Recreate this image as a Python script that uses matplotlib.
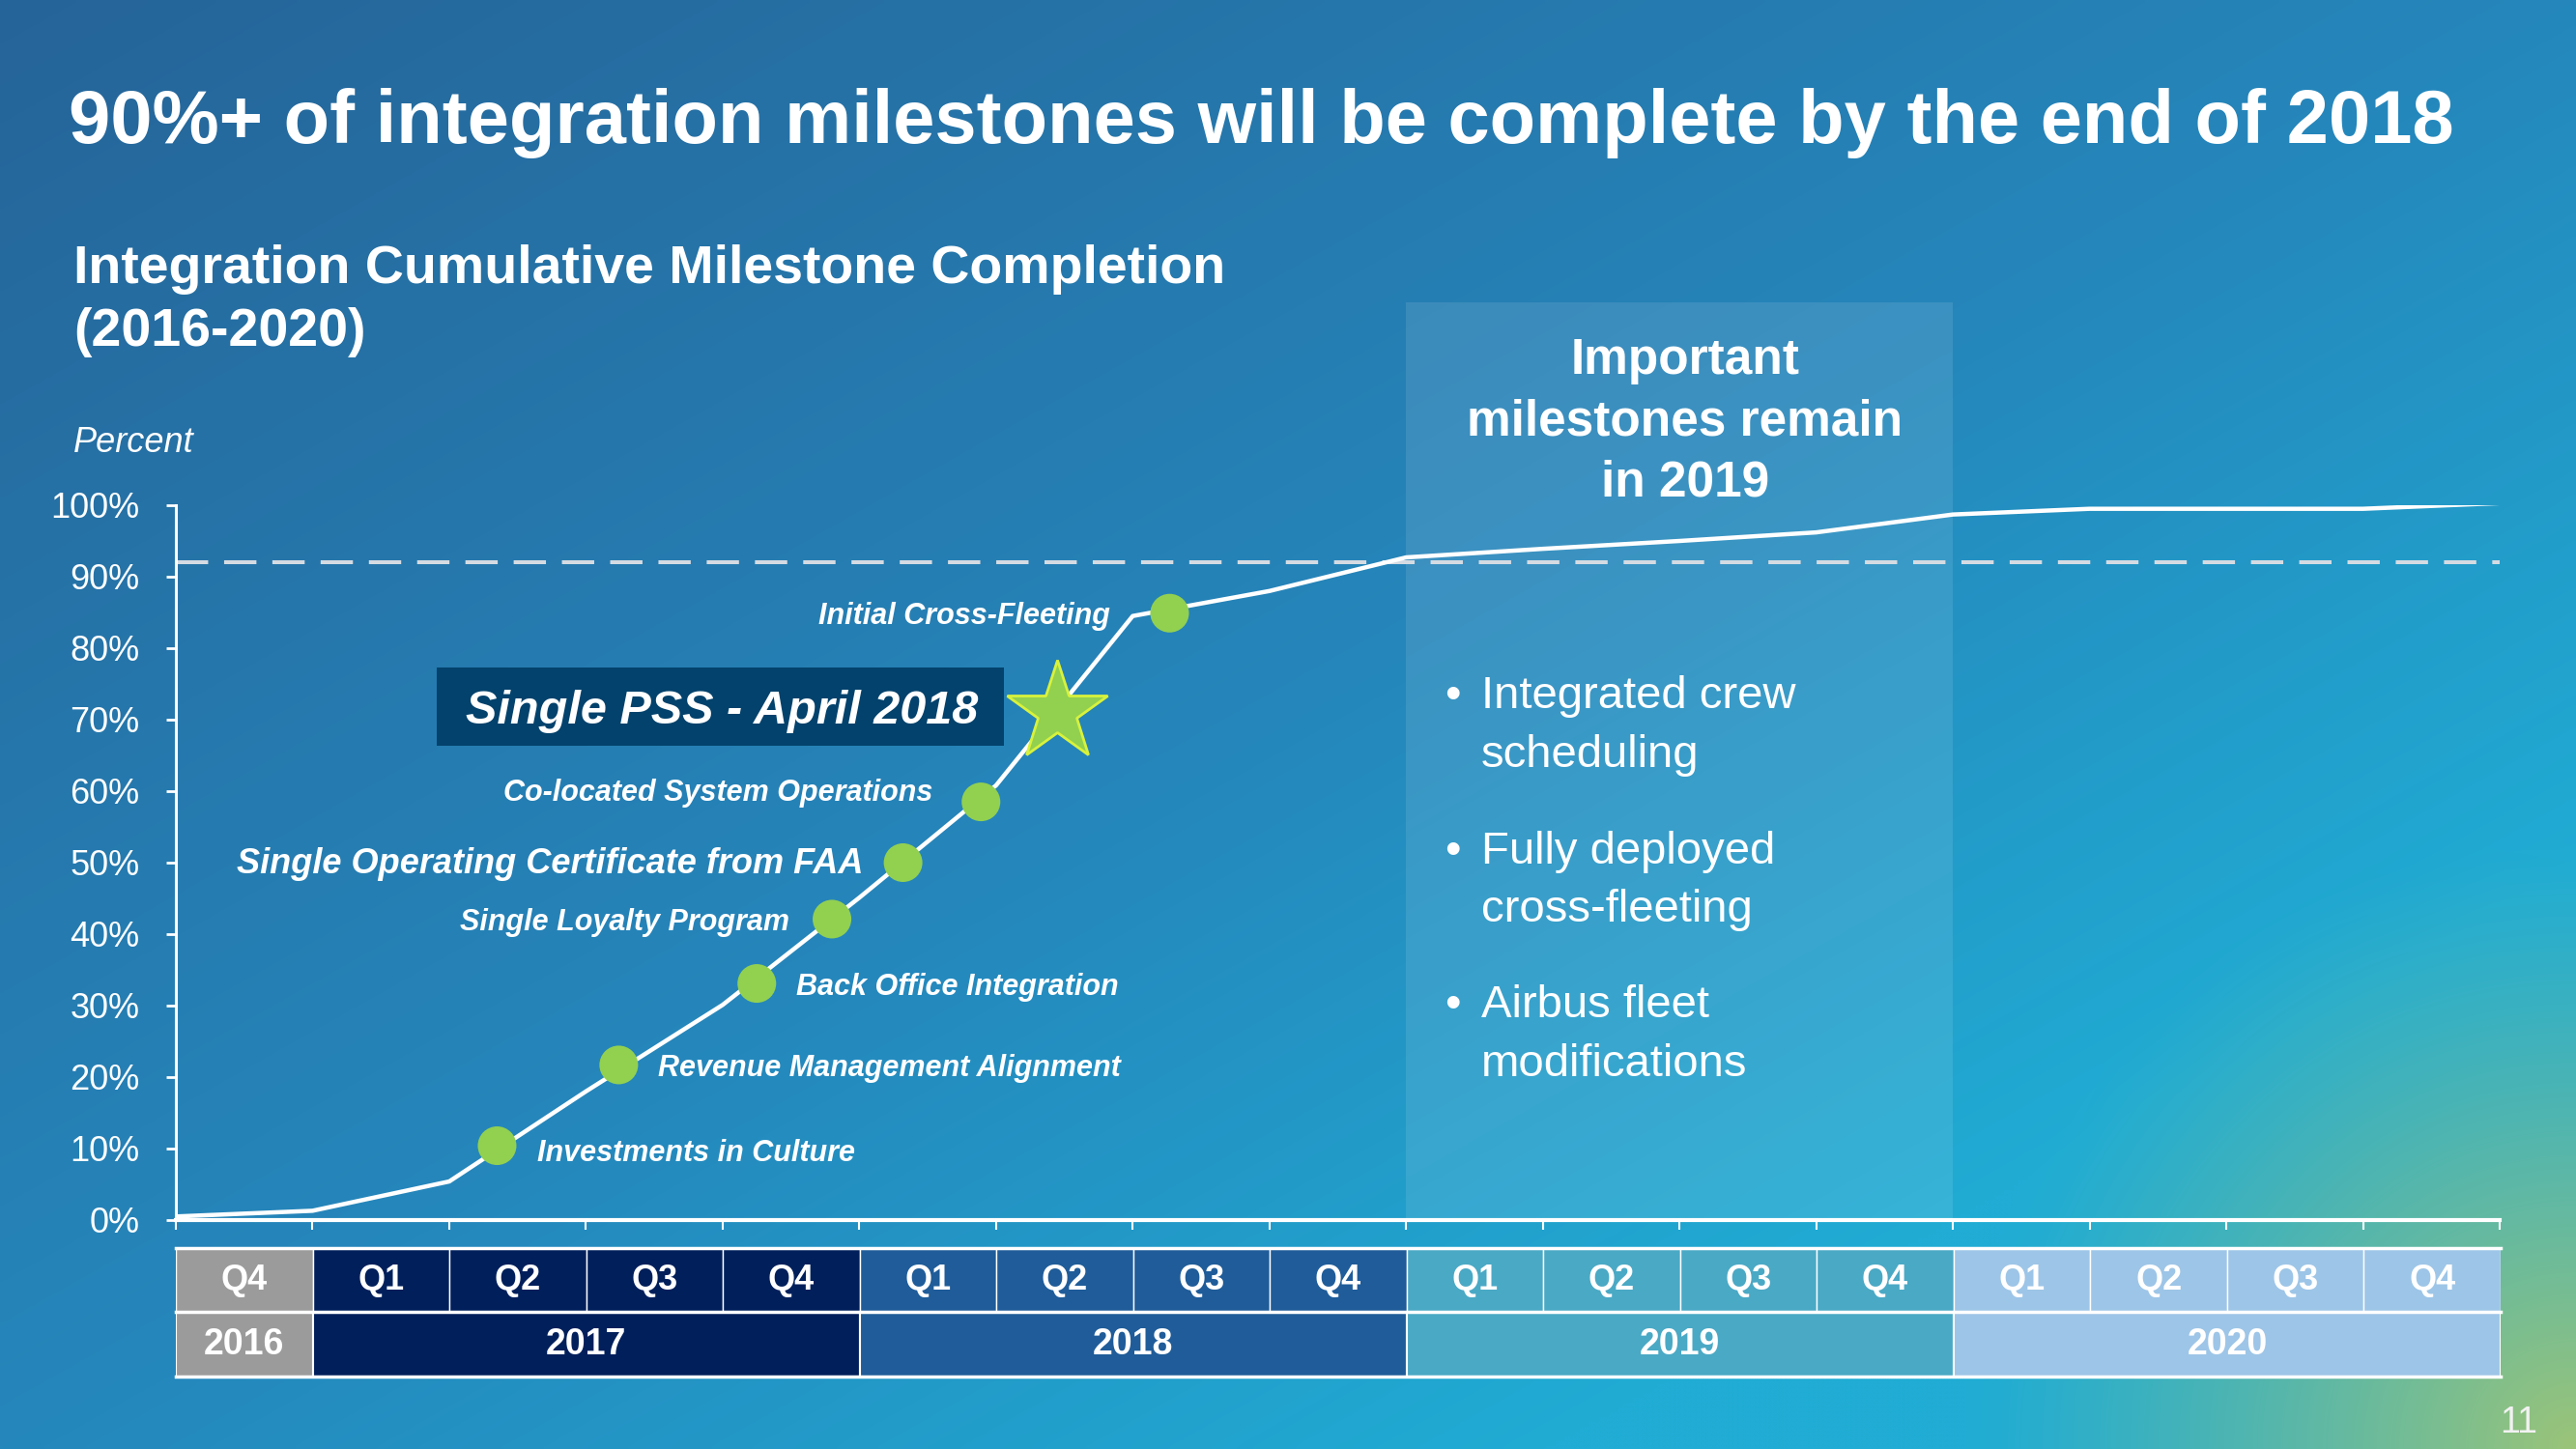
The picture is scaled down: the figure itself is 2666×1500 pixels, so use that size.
import numpy as np
import matplotlib
matplotlib.use('Agg')
import matplotlib.pyplot as plt
from matplotlib.patches import Rectangle

plt.rcParams['font.family'] = ['Liberation Sans', 'DejaVu Sans']

# cumulative completion at each quarter boundary (0 = start of Q4 2016)
quarter_edges = list(range(18))
completion = [0.5, 1.3, 5.4, 18.0, 30.1, 45.1, 60.8, 84.5, 88.0, 92.7,
              93.9, 95.0, 96.2, 98.7, 99.5, 99.5, 99.5, 100.3]

milestones = ['Investments in Culture', 'Revenue Management Alignment',
              'Back Office Integration', 'Single Loyalty Program',
              'Single Operating Certificate from FAA',
              'Co-located System Operations', 'Initial Cross-Fleeting']
milestone_x = [2.35, 3.24, 4.25, 4.80, 5.32, 5.89, 7.27]
milestone_y = [10.4, 21.7, 33.1, 42.1, 50.0, 58.5, 84.9]

star_x, star_y = 6.45, 71.1
star_label = 'Single PSS - April 2018'
target_pct = 92

quarter_labels = ['Q4'] + ['Q1', 'Q2', 'Q3', 'Q4'] * 4
years = ['2016', '2017', '2018', '2019', '2020']
year_quarters = [1, 4, 4, 4, 4]
year_colors = ['#9b9b9b', '#001f5b', '#1f5c99', '#4aa9c5', '#9dc5e7']

remain_title = ['Important', 'milestones remain', 'in 2019']
remain_items = [['Integrated crew', 'scheduling'],
                ['Fully deployed', 'cross-fleeting'],
                ['Airbus fleet', 'modifications']]

W, H = 2666, 1500


def fx(x):
    return x / W


def fy(y):
    return 1 - y / H


fig = plt.figure(figsize=(W / 100, H / 100), dpi=100)

# background gradient
gh, gw = 300, 534
u = np.linspace(0, 1, gw)[None, :]
v = np.linspace(0, 1, gh)[:, None]
t = (u + v) / 2
stops = [0, 0.5, 0.8, 1.0]
cols = np.array([(38, 100, 152), (37, 135, 188), (32, 172, 212), (32, 172, 212)]) / 255
img = np.zeros((gh, gw, 3))
for k in range(3):
    img[:, :, k] = np.interp(t, stops, cols[:, k])
d = np.sqrt(((1 - u) * W / H) ** 2 + (1 - v) ** 2)
w = np.clip(1 - d / 0.42, 0, 1) ** 1.2
green = np.array([155, 196, 120]) / 255
img = img * (1 - w[:, :, None]) + green[None, None, :] * w[:, :, None]

bg = fig.add_axes([0, 0, 1, 1])
bg.imshow(img, extent=[0, 1, 0, 1], aspect='auto', interpolation='bilinear')
bg.axis('off')
bg.set_zorder(-5)

# main chart
ax = fig.add_axes([fx(182), fy(1263), fx(2587) - fx(182), fy(523) - fy(1263)])
ax.set_zorder(1)
ax.patch.set_alpha(0)
ax.set_xlim(0, 17)
ax.set_ylim(0, 100)
for s in ['top', 'right']:
    ax.spines[s].set_visible(False)
ax.spines['left'].set_color('white')
ax.spines['left'].set_linewidth(2.2)
ax.spines['bottom'].set_color('white')
ax.spines['bottom'].set_linewidth(3)
ax.set_yticks(range(0, 101, 10))
ax.set_yticklabels([f'{p}%' for p in range(0, 101, 10)])
ax.set_xticks(quarter_edges)
ax.tick_params(axis='y', colors='white', length=7, width=2, pad=20, labelsize=26)
ax.tick_params(axis='x', colors='white', length=7, width=1.5, labelbottom=False)

ax.add_patch(Rectangle((9, 0), 4, 128.4, facecolor='white', alpha=0.1,
                       edgecolor='none', clip_on=False, zorder=1))
ax.axhline(target_pct, color='#d5dbe2', lw=2.9, dashes=(8.3, 4.1), zorder=2)
ax.plot(quarter_edges, completion, color='white', lw=3.2, zorder=3)
ax.scatter(milestone_x, milestone_y, s=830, color='#92d050', edgecolor='none', zorder=4)
ax.plot(star_x, star_y, marker='*', ms=78, mfc='#92d050', mec='#d8f23c', mew=2,
        zorder=5, clip_on=False)

offsets = [(30, -3, 'left'), (29, 0, 'left'), (29.5, 0, 'left'), (-31.7, 0, 'right'),
           (-29.5, 2, 'right'), (-36, 9.4, 'right'), (-44.6, 0, 'right')]
for name, mx, my, (dx, dy, ha) in zip(milestones, milestone_x, milestone_y, offsets):
    size = 26 if 'FAA' in name else 22
    ax.annotate(name, xy=(mx, my), xytext=(dx, dy), textcoords='offset points',
                ha=ha, va='center_baseline', fontsize=size, fontweight='bold',
                style='italic', color='white', zorder=6)

# PSS callout
fig.add_artist(Rectangle((fx(452), fy(771.7)), fx(1039) - fx(452), fy(690.7) - fy(771.7),
                         transform=fig.transFigure, facecolor='#03426c',
                         edgecolor='none', zorder=0.5))
fig.text(fx(747), fy(731), star_label, ha='center', va='center_baseline', fontsize=35,
         fontweight='bold', style='italic', color='white')

# quarter / year table
tx = fig.add_axes([fx(182), fy(1425), fx(2588) - fx(182), fy(1291.7) - fy(1425)])
tx.set_zorder(1)
tx.set_xlim(0, 17)
tx.set_ylim(0, 2)
tx.axis('off')
year_left = np.concatenate([[0], np.cumsum(year_quarters)[:-1]])
q_colors = [c for c, n in zip(year_colors, year_quarters) for _ in range(n)]
tx.bar(range(17), 1, width=1, bottom=1, align='edge', color=q_colors,
       edgecolor='white', linewidth=1)
tx.bar(year_left, 1, width=year_quarters, bottom=0, align='edge', color=year_colors,
       edgecolor='white', linewidth=1.5)
for yy in [0, 1, 2]:
    tx.axhline(yy, color='white', lw=2.5, clip_on=False)
for i, lab in enumerate(quarter_labels):
    tx.text(i + 0.5, 1.5, lab, ha='center', va='center', fontsize=26,
            fontweight='bold', color='white')
for left, n, yr in zip(year_left, year_quarters, years):
    tx.text(left + n / 2, 0.5, yr, ha='center', va='center', fontsize=27,
            fontweight='bold', color='white')

# titles
fig.text(fx(71), fy(148), '90%+ of integration milestones will be complete by the end of 2018',
         ha='left', va='baseline', fontsize=56, fontweight='bold', color='white')
fig.text(fx(76), fy(293), 'Integration Cumulative Milestone Completion',
         ha='left', va='baseline', fontsize=40, fontweight='bold', color='white')
fig.text(fx(76), fy(358), '(2016-2020)', ha='left', va='baseline', fontsize=40,
         fontweight='bold', color='white')
fig.text(fx(76), fy(468), 'Percent', ha='left', va='baseline', fontsize=26,
         style='italic', color='white')

# remaining milestones box text
for line, base in zip(remain_title, [387, 450.4, 513.5]):
    fig.text(fx(1744), fy(base), line, ha='center', va='baseline', fontsize=37,
             fontweight='bold', color='white')
bases = [(733.4, 793.7), (894, 954.4), (1053, 1114)]
for item, (b1, b2) in zip(remain_items, bases):
    fig.text(fx(1495), fy(b1), '\u2022', ha='left', va='baseline', fontsize=34, color='white')
    fig.text(fx(1533), fy(b1), item[0], ha='left', va='baseline', fontsize=34, color='white')
    fig.text(fx(1533), fy(b2), item[1], ha='left', va='baseline', fontsize=34, color='white')

fig.text(fx(2626), fy(1483), '11', ha='right', va='baseline', fontsize=27, color='#f2f2f2')

fig.savefig('out.png', dpi=100)
